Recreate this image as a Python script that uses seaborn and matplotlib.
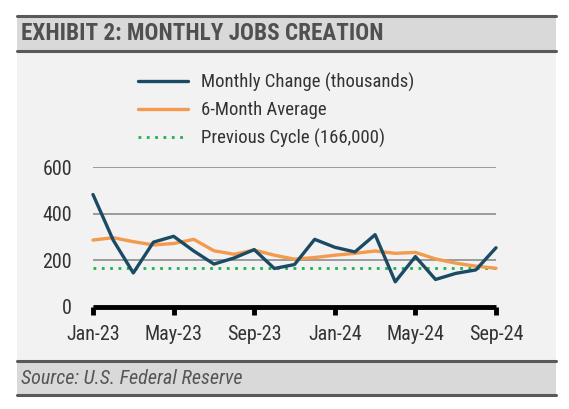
import matplotlib
matplotlib.use("Agg")
import matplotlib.pyplot as plt
from matplotlib.patches import Rectangle
from matplotlib.lines import Line2D
import pandas as pd
import seaborn as sns

months = ["Jan-23", "Feb-23", "Mar-23", "Apr-23", "May-23", "Jun-23", "Jul-23",
          "Aug-23", "Sep-23", "Oct-23", "Nov-23", "Dec-23", "Jan-24", "Feb-24",
          "Mar-24", "Apr-24", "May-24", "Jun-24", "Jul-24", "Aug-24", "Sep-24"]
monthly_change = [482, 287, 146, 278, 303, 240, 184, 210, 246, 165, 182, 290,
                  256, 236, 310, 108, 216, 118, 144, 159, 254]
six_month_avg = [287, 297, 280, 266, 272, 290, 241, 226, 244, 222, 205, 212,
                 222, 230, 240, 230, 234, 206, 188, 175, 166]
previous_cycle = 166
tick_labels = ["Jan-23", "May-23", "Sep-23", "Jan-24", "May-24", "Sep-24"]

BLUE = "#1b4b64"
ORANGE = "#f39a4e"
GREEN = "#22b14c"
DARK = "#595959"

sns.set_style("white")
plt.rcParams["font.family"] = ["Liberation Sans Narrow", "Roboto Condensed", "Liberation Sans", "DejaVu Sans"]

df = pd.DataFrame({
    "idx": range(len(months)),
    "month": months,
    "change": monthly_change,
    "avg": six_month_avg,
})

W, H = 569, 409
fig = plt.figure(figsize=(W / 100, H / 100), dpi=100)
fig.patch.set_facecolor("white")


def fx(px):
    return px / W


def fy(py):
    return 1 - py / H


# panel bands (behind the axes)
for top, bot, col in ((16, 51, "#d9d9d9"), (51, 361, "#f2f2f2"), (361, 395, "#d9d9d9")):
    fig.patches.append(Rectangle((fx(17), fy(bot)), fx(556) - fx(17), fy(top) - fy(bot),
                                 transform=fig.transFigure, facecolor=col, edgecolor="none",
                                 zorder=-5))
for yy in (16, 51, 361, 395):
    fig.lines.append(Line2D([fx(17), fx(556)], [fy(yy), fy(yy)], transform=fig.transFigure,
                            color=DARK, linewidth=2.2, zorder=-4))

fig.text(fx(21), fy(33.5), "EXHIBIT 2: MONTHLY JOBS CREATION", fontsize=16.7, fontweight="bold",
         color="#505050", va="center", ha="left")
fig.text(fx(21), fy(379), "Source: U.S. Federal Reserve", fontsize=14.5, style="italic",
         color="#555555", va="center", ha="left")

ax = fig.add_axes([fx(93), fy(307), fx(496) - fx(93), fy(167) - fy(307)])
ax.set_facecolor("none")

sns.lineplot(data=df, x="idx", y="change", ax=ax, color=BLUE, linewidth=2.4,
             label="Monthly Change (thousands)", clip_on=False, zorder=4)
sns.lineplot(data=df, x="idx", y="avg", ax=ax, color=ORANGE, linewidth=2.4,
             label="6-Month Average", clip_on=False, zorder=3)
ax.axhline(previous_cycle, color=GREEN, linewidth=2, linestyle=(0, (1, 2)),
           label="Previous Cycle (166,000)", zorder=2)

ax.set_xlim(0, len(months) - 1)
ax.set_ylim(0, 600)
ax.set_yticks([0, 200, 400, 600])
ax.yaxis.grid(True, color="#8c8c8c", linewidth=1.2)
ax.set_axisbelow(True)
tick_pos = [months.index(m) for m in tick_labels]
ax.set_xticks(tick_pos)
ax.set_xticklabels(tick_labels)
ax.tick_params(axis="x", bottom=True, direction="out", length=6, width=3.5, color="black",
               pad=7, labelsize=14.5, labelcolor="#333333")
ax.tick_params(axis="y", left=False, length=0, pad=15, labelsize=14.5, labelcolor="#333333")
ax.set_xlabel("")
ax.set_ylabel("")
for s in ("top", "right", "left"):
    ax.spines[s].set_visible(False)
ax.spines["bottom"].set_linewidth(3.5)
ax.spines["bottom"].set_color("black")
ax.spines["bottom"].set_capstyle("butt")

leg = ax.legend(loc="upper left", bbox_to_anchor=(fx(130), fy(65)), bbox_transform=fig.transFigure,
                frameon=False, fontsize=13.5, handlelength=2.7, handletextpad=0.7,
                labelspacing=0.5, borderaxespad=0)
for t in leg.get_texts():
    t.set_color("#333333")

fig.savefig("out.png", dpi=100)
